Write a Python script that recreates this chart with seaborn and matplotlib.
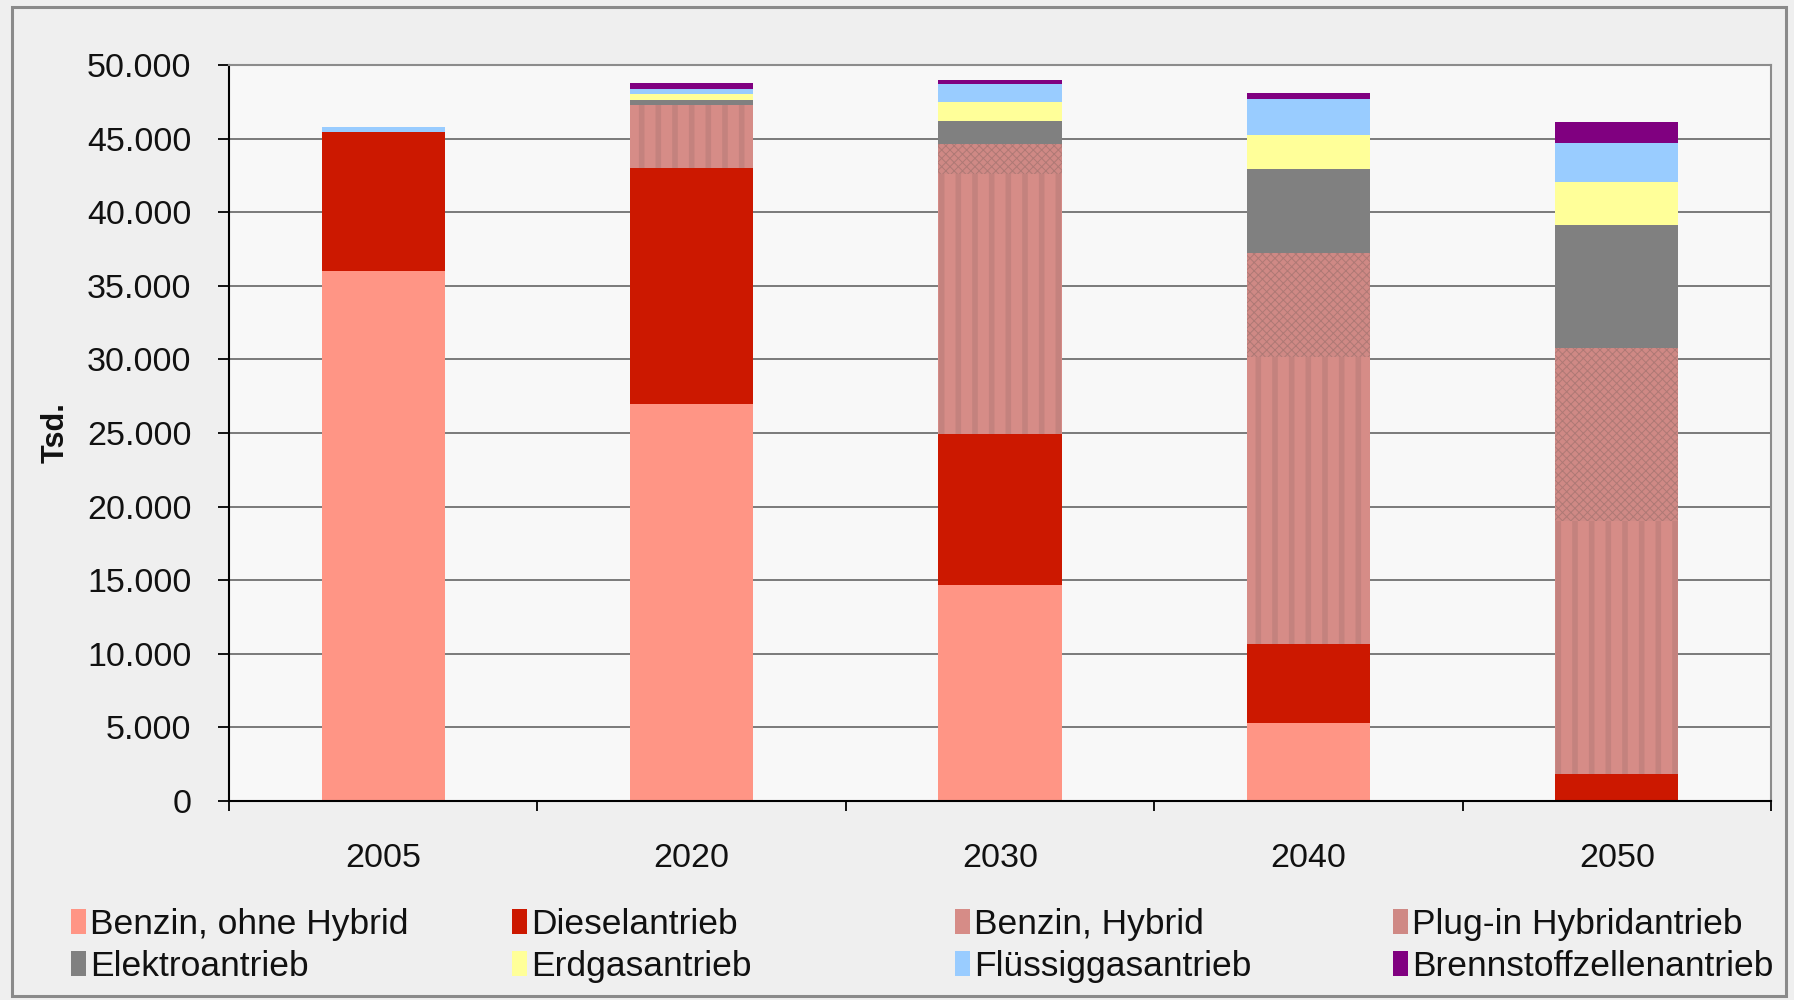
import matplotlib
matplotlib.use("Agg")
import matplotlib.pyplot as plt
import seaborn as sns
import numpy as np
from matplotlib.patches import Rectangle, Patch
from matplotlib.ticker import FuncFormatter, MultipleLocator, FixedLocator

# Pkw-Bestand nach Antriebsart, in Tsd.
years = ["2005", "2020", "2030", "2040", "2050"]
benzin_ohne = [36000, 27000, 14700, 5300, 0]
diesel = [9450, 16000, 10200, 5350, 1850]
benzin_hybrid = [0, 4300, 17700, 19500, 17150]
plugin_hybrid = [0, 0, 2000, 7100, 11800]
elektro = [0, 350, 1600, 5700, 8300]
erdgas = [0, 350, 1300, 2300, 2950]
fluessiggas = [350, 350, 1200, 2450, 2650]
brennstoff = [0, 400, 300, 400, 1450]

labels = ["Benzin, ohne Hybrid", "Dieselantrieb", "Benzin, Hybrid",
          "Plug-in Hybridantrieb", "Elektroantrieb", "Erdgasantrieb",
          "Flüssiggasantrieb", "Brennstoffzellenantrieb"]
series = [benzin_ohne, diesel, benzin_hybrid, plugin_hybrid,
          elektro, erdgas, fluessiggas, brennstoff]
colors = ["#FF9585", "#CC1800", "#D68C87", "#CF8985",
          "#808080", "#FFFF99", "#99CCFF", "#800080"]
hatches = [None, None, "|", "xxxx", None, None, None, None]
hatch_colors = [None, None, "#C4827E", "#AE7975", None, None, None, None]
hatch_widths = [None, None, 4.0, 0.7, None, None, None, None]

sns.set_theme(style="white")
plt.rcParams["font.family"] = ["Liberation Sans", "DejaVu Sans"]
plt.rcParams["hatch.linewidth"] = 1.0

fig = plt.figure(figsize=(17.94, 10), dpi=100)
fig.patch.set_facecolor("#EFEFEF")
ax = fig.add_axes([229 / 1794, 1 - 801 / 1000, (1771 - 229) / 1794, (801 - 65) / 1000])
ax.set_facecolor("#F8F8F8")
ax.set_axisbelow(True)

cum = np.cumsum(np.array(series, dtype=float), axis=0)

# stacked bars: draw cumulative totals from the top layer down
for i in range(len(series) - 1, -1, -1):
    n_before = len(ax.patches)
    kw = dict(x=years, y=cum[i], color=colors[i], saturation=1, width=0.4,
              errorbar=None, ax=ax, linewidth=0)
    if hatches[i]:
        kw["hatch"] = hatches[i]
        kw["edgecolor"] = hatch_colors[i]
    sns.barplot(**kw)
    if hatches[i]:
        for p in ax.patches[n_before:]:
            if hasattr(p, "set_hatch_linewidth"):
                p.set_hatch_linewidth(hatch_widths[i])
            p.set_linewidth(0)

ax.set_xlim(-0.5, 4.5)
ax.set_ylim(0, 50000)
ax.yaxis.set_major_locator(MultipleLocator(5000))
ax.yaxis.set_major_formatter(FuncFormatter(lambda v, _: f"{int(v):,}".replace(",", ".")))
ax.grid(axis="y", color="#585858", linewidth=1.1)
ax.grid(axis="x", visible=False)

ax.xaxis.set_minor_locator(FixedLocator(np.arange(-0.5, 5.0, 1.0)))
ax.tick_params(axis="x", which="major", length=0, pad=30, labelsize=24.5, labelcolor="#111111")
ax.tick_params(axis="x", which="minor", length=7, width=1.3, color="black", direction="out", bottom=True)
ax.tick_params(axis="y", which="major", length=8, width=1.3, color="black", direction="out",
               left=True, pad=19, labelsize=24.5, labelcolor="#111111")
ax.set_xlabel("")
ax.set_ylabel("Tsd.", fontsize=22, fontweight="bold", color="#111111")
ax.yaxis.set_label_coords(-0.1028, 0.5)

for side in ["left", "bottom"]:
    ax.spines[side].set_color("black")
    ax.spines[side].set_linewidth(1.5)
for side in ["top", "right"]:
    ax.spines[side].set_color("#8C8C8C")
    ax.spines[side].set_linewidth(1.5)

# legend: four columns of two entries each
col_x = [71, 512, 955, 1393]
rows = [[0, 4], [1, 5], [2, 6], [3, 7]]
for cx, idx in zip(col_x, rows):
    handles = [Patch(facecolor=colors[j], edgecolor="none") for j in idx]
    fig.legend(handles, [labels[j] for j in idx], loc="upper left",
               bbox_to_anchor=(cx / 1794, 1 - 908 / 1000), frameon=False,
               fontsize=25.5, handlelength=0.42, handleheight=0.7,
               handletextpad=0.12, labelspacing=0.26, borderpad=0,
               borderaxespad=0, labelcolor="#111111")

# outer frame of the chart
fig.add_artist(Rectangle((12 / 1794, 1 - 996 / 1000), (1786 - 12) / 1794, (996 - 7) / 1000,
                         transform=fig.transFigure, fill=False,
                         edgecolor="#8A8A8A", linewidth=2.2))

fig.savefig("out.png", dpi=100, facecolor=fig.get_facecolor())
